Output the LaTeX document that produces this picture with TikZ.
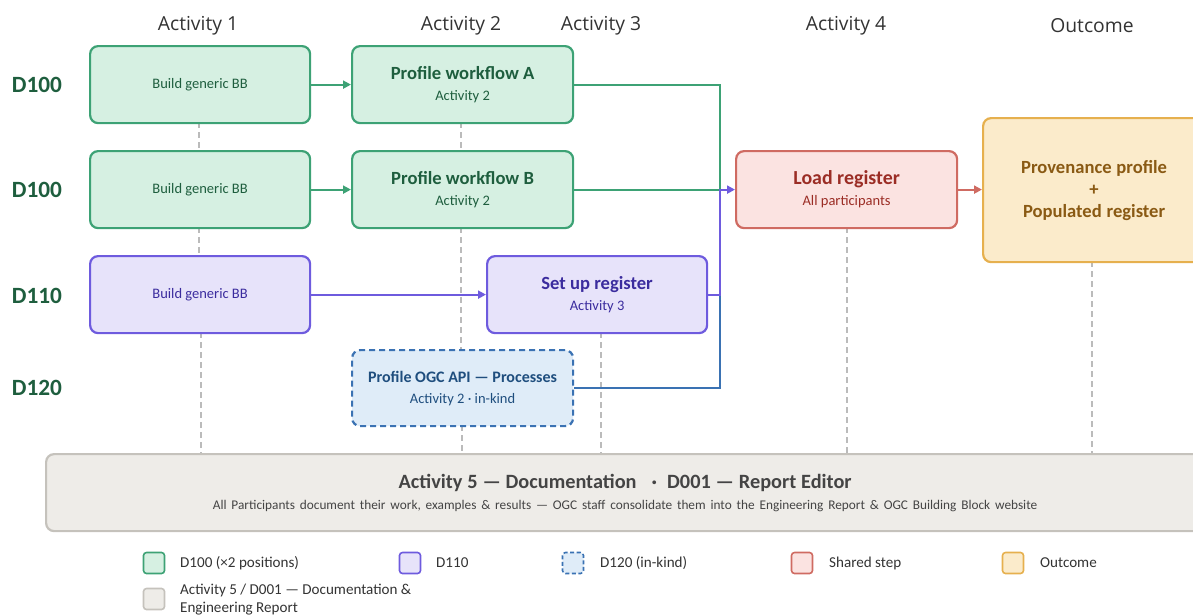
\documentclass[tikz,border=0pt]{standalone}
\usepackage{fontspec}
\setmainfont{Carlito}
\newfontfamily\hdrfont{Open Sans}
\usetikzlibrary{arrows.meta}
\definecolor{gfill}{HTML}{D6F0E2}\definecolor{gdraw}{HTML}{3DA275}\definecolor{gtext}{HTML}{1E5E3E}
\definecolor{pfill}{HTML}{E7E3FA}\definecolor{pdraw}{HTML}{6E5BDE}\definecolor{ptext}{HTML}{3B2C9E}
\definecolor{bfill}{HTML}{DFECF8}\definecolor{bdraw}{HTML}{3A72B3}\definecolor{btext}{HTML}{1F4E7E}
\definecolor{rfill}{HTML}{FBE3E1}\definecolor{rdraw}{HTML}{CF6B62}\definecolor{rtext}{HTML}{9B2D25}
\definecolor{yfill}{HTML}{FBEBCB}\definecolor{ydraw}{HTML}{E6B04E}\definecolor{ytext}{HTML}{8A5A14}
\definecolor{kfill}{HTML}{EEECE8}\definecolor{kdraw}{HTML}{C5C2BC}\definecolor{ktext}{HTML}{444444}
\definecolor{hdr}{HTML}{333333}\definecolor{vline}{HTML}{BBBBBB}
\newcommand\ttlfont{\bfseries\fontsize{18.6}{21}\selectfont}
\newcommand\subfont{\fontsize{14.5}{21}\selectfont}
\tikzset{
  boxbase/.style={rounded corners=8pt, line width=2.2pt, anchor=north west, inner sep=0pt, align=center, font=\fontsize{14.5}{21}\selectfont},
  gbox/.style={boxbase, fill=gfill, draw=gdraw, text=gtext},
  pbox/.style={boxbase, fill=pfill, draw=pdraw, text=ptext},
  bbox/.style={boxbase, fill=bfill, draw=bdraw, text=btext, dashed, dash pattern=on 6pt off 4pt},
  rbox/.style={boxbase, fill=rfill, draw=rdraw, text=rtext},
  ybox/.style={boxbase, fill=yfill, draw=ydraw, text=ytext, font=\fontsize{14.5}{22}\selectfont},
  kbox/.style={boxbase, fill=kfill, draw=kdraw, text=ktext},
  header/.style={font=\hdrfont\fontsize{19.3}{22}\selectfont, text=hdr},
  rowlbl/.style={font=\bfseries\fontsize{23.3}{26}\selectfont, text=gtext},
  conn/.style={line width=2.2pt},
  tip/.style={-{Triangle[length=8pt,width=8pt]}},
  guide/.style={draw=vline, line width=1.3pt, dash pattern=on 6pt off 4pt},
  legsw/.style={rounded corners=3pt, line width=1.6pt, minimum width=21pt, minimum height=21pt, inner sep=0pt},
  legtxt/.style={anchor=west, inner sep=0pt, font=\fontsize{15.1}{17.5}\selectfont, text=hdr, align=left},
}
\begin{document}
\begin{tikzpicture}[x=1pt,y=-1pt]
\useasboundingbox (0,0) rectangle (1193,614);
\clip (0,0) rectangle (1193,614);
% headers
\node[header] (h1) at (198,26) {Activity 1};
\node[header] (h2) at (461,26) {Activity 2};
\node[header] (h3) at (601,26) {Activity 3};
\node[header] (h4) at (846,26) {Activity 4};
\node[header] (h5) at (1092,26) {Outcome};
% row labels
\node[rowlbl] (r1) at (37,85) {D100};
\node[rowlbl] (r2) at (37,190) {D100};
\node[rowlbl] (r3) at (37,296) {D110};
\node[rowlbl] (r4) at (37,388) {D120};
% guide lines
\draw[guide] (199,122) -- (199,150);
\draw[guide] (199,227) -- (199,255);
\draw[guide] (201,332) -- (201,453);
\draw[guide] (461,122) -- (461,150);
\draw[guide] (461,227) -- (461,349);
\draw[guide] (462,425) -- (462,453);
\draw[guide] (601,332) -- (601,453);
\draw[guide] (847,227) -- (847,453);
\draw[guide] (1092,261) -- (1092,453);
% boxes
\node[gbox, minimum width=220pt, minimum height=77pt] (a1) at (89,45) {\subfont Build generic BB};
\node[gbox, minimum width=221pt, minimum height=77pt] (a2) at (351,45) {{\ttlfont Profile workflow A}\\{\subfont Activity 2}};
\node[gbox, minimum width=220pt, minimum height=77pt] (b1) at (89,150) {\subfont Build generic BB};
\node[gbox, minimum width=221pt, minimum height=77pt] (b2) at (351,150) {{\ttlfont Profile workflow B}\\{\subfont Activity 2}};
\node[pbox, minimum width=220pt, minimum height=77pt] (c1) at (89,255) {\subfont Build generic BB};
\node[pbox, minimum width=220pt, minimum height=77pt] (setup) at (486,255) {{\ttlfont Set up register}\\{\subfont Activity 3}};
\node[bbox, minimum width=221pt, minimum height=76pt] (ogc) at (351,349) {{\bfseries\fontsize{16}{19}\selectfont Profile OGC API — Processes}\\{\subfont Activity 2 · in-kind}};
\node[rbox, minimum width=221pt, minimum height=77pt] (load) at (735,150) {{\bfseries\fontsize{19.9}{22}\selectfont Load register}\\{\subfont All participants}};
\node[ybox, minimum width=222pt, minimum height=144pt, text width=222pt] (out) at (982,117) {{\ttlfont Provenance profile}\\{\ttlfont +}\\{\ttlfont Populated register}};
\node[kbox, minimum width=1158pt, minimum height=77pt, text width=1158pt] (doc) at (45,453) {{\bfseries\fontsize{20.3}{23}\selectfont Activity 5 — Documentation \enspace·\enspace D001 — Report Editor}\\{\fontsize{13.3}{16}\selectfont All Participants document their work, examples \& results — OGC staff consolidate them into the Engineering Report \& OGC Building Block website}};
% connectors
\coordinate (j) at (b2.east -| 720,0);
\coordinate (jb) at (setup.east -| 720,0);
\draw[conn, draw=gdraw, tip] (a1.east) -- (a2.west);
\draw[conn, draw=gdraw, tip] (b1.east) -- (b2.west);
\draw[conn, draw=pdraw, tip] (c1.east) -- (setup.west);
\draw[conn, draw=gdraw] (a2.east) -| (j);
\draw[conn, draw=gdraw] (b2.east) -- (j);
\draw[conn, draw=bdraw] (ogc.east) -| (jb);
\draw[conn, draw=pdraw, tip] (setup.east) -- (jb) -- (j) -- (load.west);
\draw[conn, draw=rdraw, tip] (load.east) -- (load.east -| out.west);
% legend
\node[legsw, fill=gfill, draw=gdraw] (l1) at (154,563) {};
\node[legtxt] (t1) at (180,563) {D100 (×2 positions)};
\node[legsw, fill=pfill, draw=pdraw] (l2) at (410,563) {};
\node[legtxt] (t2) at (436,563) {D110};
\node[legsw, fill=bfill, draw=bdraw, dash pattern=on 4pt off 2.5pt] (l3) at (573,563) {};
\node[legtxt] (t3) at (600,563) {D120 (in-kind)};
\node[legsw, fill=rfill, draw=rdraw] (l4) at (802,563) {};
\node[legtxt] (t4) at (829,563) {Shared step};
\node[legsw, fill=yfill, draw=ydraw] (l5) at (1013,563) {};
\node[legtxt] (t5) at (1040,563) {Outcome};
\node[legsw, fill=kfill, draw=kdraw] (l6) at (154,599) {};
\node[legtxt, anchor=north west] (t6) at (180,584) {Activity 5 / D001 — Documentation \&\\Engineering Report};
\end{tikzpicture}
\end{document}
